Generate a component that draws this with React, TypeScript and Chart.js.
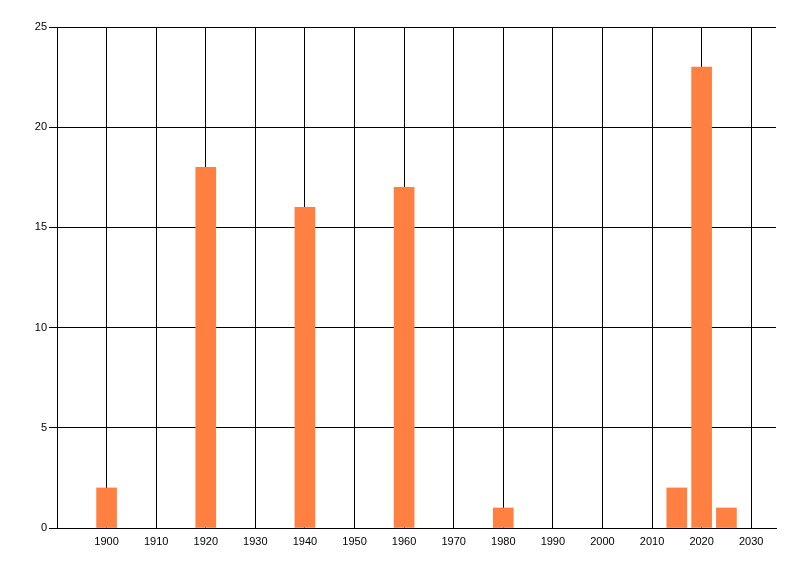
import React, { useEffect, useRef } from "react";
import { Chart, registerables } from "chart.js";

Chart.register(...registerables);

const years = [1900, 1920, 1940, 1960, 1980, 2015, 2020, 2025];
const counts = [2, 18, 16, 17, 1, 2, 23, 1];
const xTicks = [1900, 1910, 1920, 1930, 1940, 1950, 1960, 1970, 1980, 1990, 2000, 2010, 2020, 2030];
const yTicks = [0, 5, 10, 15, 20, 25];

export default function App() {
  const ref = useRef<HTMLCanvasElement | null>(null);
  useEffect(() => {
    if (!ref.current) return;
    const font = { family: "'Liberation Sans', 'DejaVu Sans', sans-serif", size: 11 };
    const chart = new Chart(ref.current, {
      type: "bar",
      data: {
        datasets: [
          {
            data: years.map((x, i) => ({ x, y: counts[i] })),
            backgroundColor: "rgb(255,128,64)",
            borderWidth: 0,
            barThickness: 20,
          },
        ],
      },
      options: {
        animation: false,
        responsive: false,
        maintainAspectRatio: false,
        layout: { padding: { left: 0, right: 24, top: 27, bottom: 0 } },
        plugins: { legend: { display: false }, tooltip: { enabled: false } },
        scales: {
          x: {
            type: "linear",
            min: 1890,
            max: 2035,
            offset: false,
            afterBuildTicks: (scale: any) => {
              scale.ticks = xTicks.map((v) => ({ value: v }));
            },
            afterFit: (scale: any) => {
              scale.height = 48;
            },
            grid: { color: "#000", lineWidth: 1, drawTicks: false, offset: false },
            border: { color: "#000", width: 1 },
            ticks: { color: "#000", font, padding: 7, maxRotation: 0, autoSkip: false, callback: (v: any) => String(v) },
          },
          y: {
            min: 0,
            max: 25,
            afterBuildTicks: (scale: any) => {
              scale.ticks = yTicks.map((v) => ({ value: v }));
            },
            afterFit: (scale: any) => {
              scale.width = 57;
            },
            grid: { color: "#000", lineWidth: 1, drawTicks: true, tickLength: 8 },
            border: { color: "#000", width: 1 },
            ticks: { color: "#000", font, padding: 2 },
          },
        },
      },
    });
    return () => chart.destroy();
  }, []);
  return (
    <div style={{ position: "fixed", left: 0, top: 0, width: 800, height: 576, background: "#fff" }}>
      <canvas ref={ref} width={800} height={576} style={{ display: "block" }} />
    </div>
  );
}
